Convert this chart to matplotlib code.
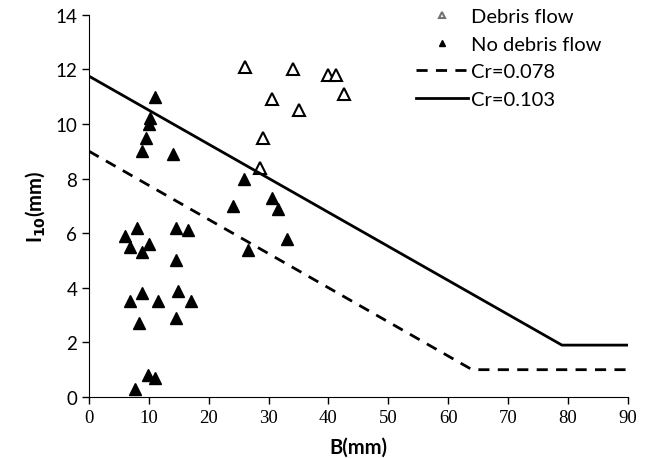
import matplotlib.pyplot as plt

# debris flow events (open triangles)
df_B = [26.0, 34.1, 40.0, 41.2, 42.6, 30.6, 35.1, 29.0, 28.6]
df_I = [12.1, 12.0, 11.8, 11.8, 11.1, 10.9, 10.5, 9.5, 8.4]

# no debris flow (filled triangles)
ndf_B = [11.0, 10.2, 10.0, 9.6, 8.9, 14.1, 25.9, 24.0, 30.6, 31.6,
         6.0, 8.0, 6.9, 10.0, 8.9, 14.5, 16.5, 14.5, 26.6, 33.1,
         8.9, 6.9, 11.5, 14.9, 17.0, 14.5, 8.4, 9.9, 11.0, 7.6]
ndf_I = [11.0, 10.2, 10.0, 9.5, 9.0, 8.9, 8.0, 7.0, 7.3, 6.9,
         5.9, 6.2, 5.5, 5.6, 5.3, 6.2, 6.1, 5.0, 5.4, 5.8,
         3.8, 3.5, 3.5, 3.9, 3.5, 2.9, 2.7, 0.8, 0.7, 0.3]

# critical lines
cr078_B = [0, 64, 90]
cr078_I = [9.0, 1.0, 1.0]
cr103_B = [0, 79, 90]
cr103_I = [11.75, 1.9, 1.9]

sans = 'Lato'
serif = 'Liberation Serif'

fig = plt.figure(figsize=(6.46, 4.6), dpi=100)
ax = fig.add_axes([0.1378, 0.1348, 0.834, 0.831])

ax.plot(df_B, df_I, linestyle='none', marker='^', ms=8.5, mfc='white',
        mec='black', mew=1.5, label='Debris flow')
ax.plot(ndf_B, ndf_I, linestyle='none', marker='^', ms=8.5, mfc='black',
        mec='black', label='No debris flow')
ax.plot(cr078_B, cr078_I, 'k--', lw=2, dashes=(4, 3), label='Cr=0.078')
ax.plot(cr103_B, cr103_I, 'k-', lw=2, label='Cr=0.103')

ax.set_xlim(0, 90)
ax.set_ylim(0, 14)
ax.set_xticks(range(0, 91, 10))
ax.set_yticks(range(0, 15, 2))
ax.spines['top'].set_visible(False)
ax.spines['right'].set_visible(False)
ax.tick_params(direction='out', length=5, width=1)
for lab in ax.get_xticklabels():
    lab.set_fontfamily(serif)
    lab.set_fontsize(13.5)
for lab in ax.get_yticklabels():
    lab.set_fontfamily(sans)
    lab.set_fontsize(13.5)

ax.set_xlabel('B(mm)', fontfamily=sans, fontsize=14.5, fontweight='bold', labelpad=8)
ax.set_ylabel(r'I$_{\mathbf{10}}$(mm)', fontfamily=sans, fontsize=14.5,
              fontweight='bold', labelpad=6)

leg = ax.legend(loc='upper right', bbox_to_anchor=(0.985, 1.065), frameon=False,
                prop={'family': sans, 'size': 14.5}, handlelength=2.6,
                handletextpad=0.15, labelspacing=0.52, markerscale=0.55)
leg.legend_handles[0].set_markeredgecolor('0.45')

fig.savefig('out.png', dpi=100)
